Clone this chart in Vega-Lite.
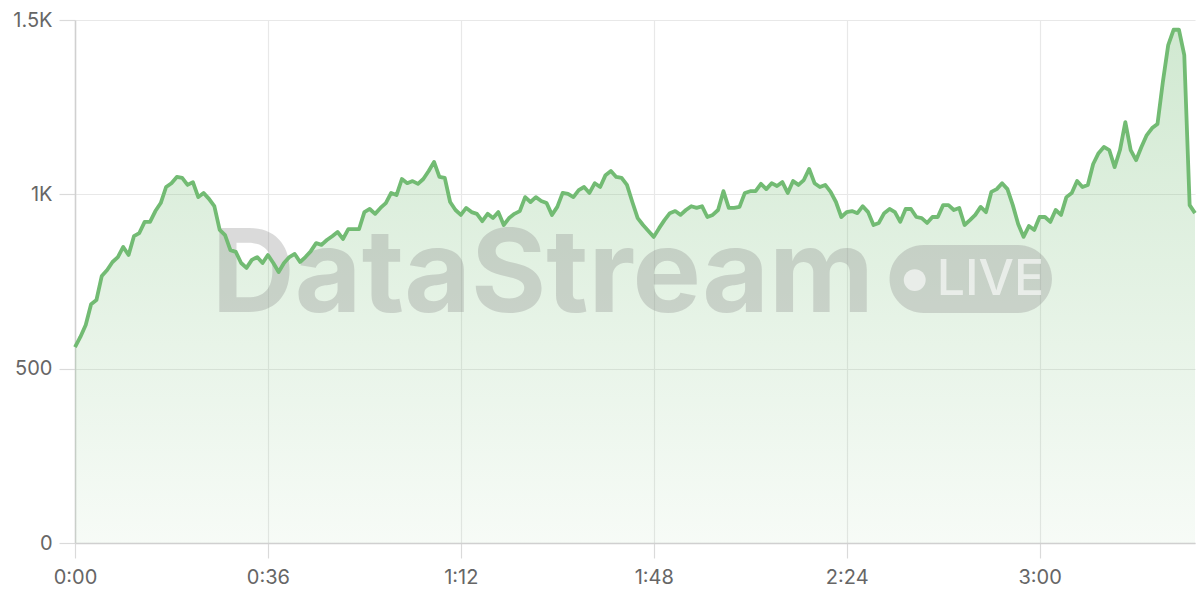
{
  "$schema": "https://vega.github.io/schema/vega-lite/v6.json",
  "width": 1120,
  "height": 523,
  "autosize": {"type": "none"},
  "padding": {"left": 75, "top": 20, "right": 5, "bottom": 57},
  "background": "white",
  "config": {
    "view": {"stroke": null},
    "axis": {
      "labelFont": "Inter",
      "labelFontSize": 20,
      "labelColor": "#666666",
      "gridColor": "#e8e8e8",
      "gridWidth": 1.2,
      "domainColor": "#d0d0d0",
      "domainWidth": 1.5,
      "tickColor": "#dadada",
      "tickWidth": 1.2,
      "tickSize": 15,
      "title": null
    }
  },
  "data": {
    "values": [
      {"t":0,"v":562},{"t":1,"v":591},{"t":2,"v":625},{"t":3,"v":685},{"t":4,"v":697},{"t":5,"v":766},{"t":6,"v":783},{"t":7,"v":806},{"t":8,"v":820},{"t":9,"v":849},
      {"t":10,"v":826},{"t":11,"v":880},{"t":12,"v":889},{"t":13,"v":921},{"t":14,"v":921},{"t":15,"v":952},{"t":16,"v":975},{"t":17,"v":1021},{"t":18,"v":1032},{"t":19,"v":1050},
      {"t":20,"v":1047},{"t":21,"v":1027},{"t":22,"v":1035},{"t":23,"v":992},{"t":24,"v":1004},{"t":25,"v":987},{"t":26,"v":966},{"t":27,"v":898},{"t":28,"v":883},{"t":29,"v":840},
      {"t":30,"v":835},{"t":31,"v":803},{"t":32,"v":789},{"t":33,"v":812},{"t":34,"v":820},{"t":35,"v":803},{"t":36,"v":826},{"t":37,"v":803},{"t":38,"v":777},{"t":39,"v":803},
      {"t":40,"v":820},{"t":41,"v":829},{"t":42,"v":806},{"t":43,"v":820},{"t":44,"v":837},{"t":45,"v":860},{"t":46,"v":855},{"t":47,"v":869},{"t":48,"v":880},{"t":49,"v":892},
      {"t":50,"v":872},{"t":51,"v":900},{"t":52,"v":900},{"t":53,"v":900},{"t":54,"v":949},{"t":55,"v":958},{"t":56,"v":944},{"t":57,"v":961},{"t":58,"v":975},{"t":59,"v":1004},
      {"t":60,"v":998},{"t":61,"v":1044},{"t":62,"v":1032},{"t":63,"v":1038},{"t":64,"v":1030},{"t":65,"v":1044},{"t":66,"v":1067},{"t":67,"v":1093},{"t":68,"v":1050},{"t":69,"v":1047},
      {"t":70,"v":978},{"t":71,"v":955},{"t":72,"v":941},{"t":73,"v":961},{"t":74,"v":949},{"t":75,"v":944},{"t":76,"v":923},{"t":77,"v":944},{"t":78,"v":932},{"t":79,"v":949},
      {"t":80,"v":912},{"t":81,"v":932},{"t":82,"v":944},{"t":83,"v":952},{"t":84,"v":992},{"t":85,"v":978},{"t":86,"v":992},{"t":87,"v":981},{"t":88,"v":975},{"t":89,"v":941},
      {"t":90,"v":964},{"t":91,"v":1004},{"t":92,"v":1001},{"t":93,"v":992},{"t":94,"v":1012},{"t":95,"v":1021},{"t":96,"v":1004},{"t":97,"v":1032},{"t":98,"v":1021},{"t":99,"v":1055},
      {"t":100,"v":1067},{"t":101,"v":1050},{"t":102,"v":1047},{"t":103,"v":1027},{"t":104,"v":978},{"t":105,"v":932},{"t":106,"v":912},{"t":107,"v":895},{"t":108,"v":878},{"t":109,"v":903},
      {"t":110,"v":926},{"t":111,"v":946},{"t":112,"v":952},{"t":113,"v":941},{"t":114,"v":955},{"t":115,"v":966},{"t":116,"v":961},{"t":117,"v":966},{"t":118,"v":935},{"t":119,"v":941},
      {"t":120,"v":955},{"t":121,"v":1009},{"t":122,"v":961},{"t":123,"v":961},{"t":124,"v":964},{"t":125,"v":1004},{"t":126,"v":1009},{"t":127,"v":1009},{"t":128,"v":1030},{"t":129,"v":1015},
      {"t":130,"v":1032},{"t":131,"v":1024},{"t":132,"v":1035},{"t":133,"v":1004},{"t":134,"v":1038},{"t":135,"v":1027},{"t":136,"v":1041},{"t":137,"v":1073},{"t":138,"v":1032},{"t":139,"v":1021},
      {"t":140,"v":1027},{"t":141,"v":1007},{"t":142,"v":978},{"t":143,"v":935},{"t":144,"v":949},{"t":145,"v":952},{"t":146,"v":946},{"t":147,"v":966},{"t":148,"v":949},{"t":149,"v":912},
      {"t":150,"v":918},{"t":151,"v":946},{"t":152,"v":958},{"t":153,"v":949},{"t":154,"v":921},{"t":155,"v":958},{"t":156,"v":958},{"t":157,"v":935},{"t":158,"v":932},{"t":159,"v":918},
      {"t":160,"v":935},{"t":161,"v":935},{"t":162,"v":969},{"t":163,"v":969},{"t":164,"v":955},{"t":165,"v":961},{"t":166,"v":912},{"t":167,"v":926},{"t":168,"v":941},{"t":169,"v":964},
      {"t":170,"v":949},{"t":171,"v":1007},{"t":172,"v":1015},{"t":173,"v":1032},{"t":174,"v":1015},{"t":175,"v":969},{"t":176,"v":915},{"t":177,"v":878},{"t":178,"v":909},{"t":179,"v":898},
      {"t":180,"v":935},{"t":181,"v":935},{"t":182,"v":921},{"t":183,"v":955},{"t":184,"v":941},{"t":185,"v":992},{"t":186,"v":1004},{"t":187,"v":1038},{"t":188,"v":1021},{"t":189,"v":1027},
      {"t":190,"v":1087},{"t":191,"v":1118},{"t":192,"v":1136},{"t":193,"v":1127},{"t":194,"v":1078},{"t":195,"v":1127},{"t":196,"v":1207},{"t":197,"v":1127},{"t":198,"v":1098},{"t":199,"v":1136},
      {"t":200,"v":1170},{"t":201,"v":1190},{"t":202,"v":1202},{"t":203,"v":1322},{"t":204,"v":1428},{"t":205,"v":1472},{"t":206,"v":1472},{"t":207,"v":1399},{"t":208,"v":969},{"t":209,"v":946}
    ]
  },
  "layer": [
    {
      "mark": {
        "type": "area",
        "color": {
          "gradient": "linear",
          "x1": 0, "y1": 0, "x2": 0, "y2": 1,
          "stops": [
            {"offset": 0, "color": "rgba(111,186,112,0.32)"},
            {"offset": 1, "color": "rgba(111,186,112,0.06)"}
          ]
        }
      },
      "encoding": {
        "x": {
          "field": "t", "type": "quantitative",
          "scale": {"domain": [0, 209], "nice": false, "zero": false},
          "axis": {
            "values": [0, 36, 72, 108, 144, 180],
            "labelExpr": "floor(datum.value/60) + ':' + (datum.value % 60 < 10 ? '0' : '') + (datum.value % 60)",
            "labelPadding": 9,
            "labelFlush": false,
            "grid": true
          },
          "title": null
        },
        "y": {
          "field": "v", "type": "quantitative",
          "scale": {"domain": [0, 1500], "nice": false},
          "axis": {
            "values": [0, 500, 1000, 1500],
            "labelExpr": "datum.value >= 1000 ? (datum.value / 1000) + 'K' : datum.value",
            "labelPadding": 7,
            "tickSize": 16,
            "grid": true
          },
          "title": null
        }
      }
    },
    {
      "data": {"values": [{"label": "DataStream"}]},
      "mark": {"type": "text", "font": "Inter", "fontWeight": "bold", "fontSize": 115, "align": "center", "baseline": "middle", "color": "#888888", "opacity": 0.3},
      "encoding": {
        "x": {"datum": 87.3, "type": "quantitative", "title": null},
        "y": {"datum": 762, "type": "quantitative", "title": null},
        "text": {"field": "label"}
      }
    },
    {
      "data": {"values": [{"label": "badge"}]},
      "mark": {"type": "rect", "cornerRadius": 34, "color": "#888888", "opacity": 0.3},
      "encoding": {
        "x": {"datum": 152, "type": "quantitative", "title": null},
        "x2": {"datum": 182.3},
        "y": {"datum": 855, "type": "quantitative", "title": null},
        "y2": {"datum": 660}
      }
    },
    {
      "data": {"values": [{"label": "dot"}]},
      "mark": {"type": "circle", "size": 480, "color": "#ffffff", "opacity": 0.6},
      "encoding": {
        "x": {"datum": 156.7, "type": "quantitative", "title": null},
        "y": {"datum": 754, "type": "quantitative", "title": null}
      }
    },
    {
      "data": {"values": [{"label": "LIVE"}]},
      "mark": {"type": "text", "font": "Inter", "fontWeight": 500, "fontSize": 50, "align": "left", "baseline": "middle", "color": "#ffffff", "opacity": 0.6},
      "encoding": {
        "x": {"datum": 160.8, "type": "quantitative", "title": null},
        "y": {"datum": 754, "type": "quantitative", "title": null},
        "text": {"field": "label"}
      }
    },
    {
      "mark": {"type": "line", "color": "#72bb73", "strokeWidth": 3.8, "strokeJoin": "round"},
      "encoding": {
        "x": {"field": "t", "type": "quantitative", "title": null},
        "y": {"field": "v", "type": "quantitative", "title": null}
      }
    }
  ]
}
